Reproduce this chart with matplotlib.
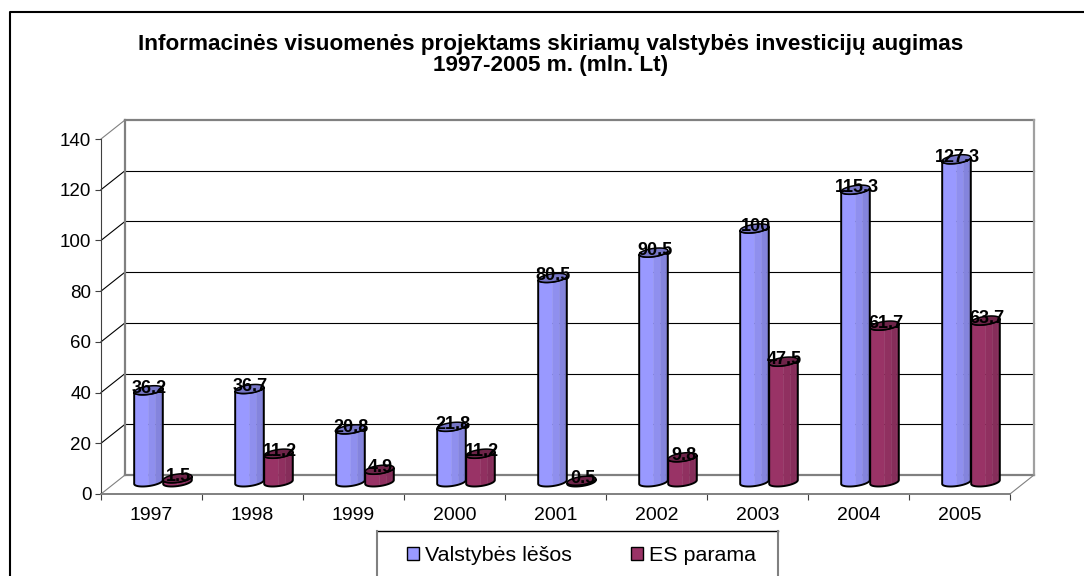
import matplotlib
matplotlib.use('Agg')
import matplotlib.pyplot as plt
import numpy as np
from matplotlib.lines import Line2D
from matplotlib.patches import Patch, Polygon, Rectangle

plt.rcParams['font.family'] = ['Liberation Sans', 'DejaVu Sans']

years = ['1997', '1998', '1999', '2000', '2001', '2002', '2003', '2004', '2005']
valstybes = [36.2, 36.7, 20.8, 21.8, 80.5, 90.5, 100, 115.3, 127.3]
es_parama = [1.5, 11.2, 4.9, 11.2, 0.5, 9.8, 47.5, 61.7, 63.7]
value_labels_v = ['36.2', '36.7', '20.8', '21.8', '80.5', '90.5', '100', '115.3', '127.3']
value_labels_e = ['1.5', '11.2', '4.9', '11.2', '0.5', '9.8', '47.5', '61.7', '63.7']
y_ticks = [0, 20, 40, 60, 80, 100, 120, 140]
title = 'Informacinės visuomenės projektams skiriamų valstybės investicijų augimas\n1997-2005 m. (mln. Lt)'

W, H = 1084, 576
fig = plt.figure(figsize=(W / 100, H / 100), dpi=100)
ax = fig.add_axes([101 / W, (H - 494) / H, 909 / W, 355 / H])
ax.set_xlim(0, len(years))
ax.set_ylim(0, 140)

# size of one pixel in data units, the fake 3D depth is set in pixels
px = len(years) / 909
py = 140 / 355
depth_x, depth_y = 24 * px, 19 * py

GRAY = '#808080'
for v in y_ticks:
    color = GRAY if v in (0, 140) else 'black'
    ax.plot([0, depth_x], [v, v + depth_y], color=color, lw=0.8, clip_on=False, zorder=1)
    ax.plot([depth_x, len(years) + depth_x], [v + depth_y] * 2, color=color,
            lw=1.6 if v in (0, 140) else 0.8, clip_on=False, zorder=1)
ax.plot([depth_x, depth_x], [depth_y, 140 + depth_y], color=GRAY, lw=1.6, clip_on=False, zorder=1)
ax.plot([len(years) + depth_x] * 2, [depth_y, 140 + depth_y], color='#a0a0a0', lw=1.6, clip_on=False, zorder=1)
ax.plot([len(years), len(years) + depth_x], [0, depth_y], color=GRAY, lw=0.8, clip_on=False, zorder=1)


def cylinder(cx, value, light, dark, cap, z):
    a, dx, dy = 13 * px, 6 * px, 4.5 * py
    base = 12 * py
    t0 = np.arctan2(dx, a)
    arc = np.linspace(t0 + np.pi, t0 + 2 * np.pi, 25)
    xs = cx + a * np.cos(arc) + dx * np.sin(arc)
    ys = dy * np.sin(arc)
    light, dark = np.array(matplotlib.colors.to_rgb(light)), np.array(matplotlib.colors.to_rgb(dark))
    # four flat bands, the front is lightest and the right side darkest
    for band, (k0, k1) in enumerate([(0, 12), (12, 16), (16, 20), (20, 24)]):
        c = light + (dark - light) * band / 3
        front = np.c_[xs[k0:k1 + 1], base + ys[k0:k1 + 1]]
        back = np.c_[xs[k0:k1 + 1][::-1], base + value + ys[k0:k1 + 1][::-1]]
        ax.add_patch(Polygon(np.r_[front, back], fc=c, ec=c, lw=0.3, clip_on=False, zorder=z))
    outline = np.r_[np.c_[xs, base + ys], np.c_[xs[::-1], base + value + ys[::-1]]]
    ax.add_patch(Polygon(outline, fc='none', ec='black', lw=1.4, clip_on=False, zorder=z + 0.1))
    t = np.linspace(0, 2 * np.pi, 60)
    top = np.c_[cx + a * np.cos(t) + dx * np.sin(t), base + value + dy * np.sin(t)]
    ax.add_patch(Polygon(top, fc=cap, ec='black', lw=1.1, clip_on=False, zorder=z + 0.2))


for i, year in enumerate(years):
    c_blue = i + 0.5 - 3 * px
    c_red = i + 0.5 + 26 * px
    cylinder(c_blue, valstybes[i], '#9999ff', '#7a7acc', '#7676c6', 3 + i)
    cylinder(c_red, es_parama[i], '#993366', '#7d2a54', '#6e2449', 3 + i + 0.5)
    ax.text(c_blue + px, valstybes[i] + 14 * py, value_labels_v[i], ha='center', va='center',
            fontsize=13, fontweight='bold', color='black', zorder=30, clip_on=False)
    ax.text(c_red + px, es_parama[i] + 14 * py, value_labels_e[i], ha='center', va='center',
            fontsize=13, fontweight='bold', color='black', zorder=30, clip_on=False)

ax.set_facecolor('none')
for side in ('top', 'right'):
    ax.spines[side].set_visible(False)
ax.spines['left'].set_color('#404040')
ax.spines['bottom'].set_color(GRAY)
ax.spines['bottom'].set_linewidth(1.4)
ax.set_yticks(y_ticks)
ax.set_xticks(range(len(years) + 1))
ax.set_xticklabels([])
ax.set_xticks(np.arange(len(years)) + 0.5, labels=years, minor=True)
ax.tick_params(axis='x', which='minor', length=0, pad=9, labelsize=14)
ax.tick_params(axis='x', which='major', length=4, color='#404040')
ax.tick_params(axis='y', length=4, pad=3, labelsize=13.5, color='#404040')

fig.text(551 / W, 1 - 55 / H, title, ha='center', va='center', fontsize=16.2, fontweight='bold', linespacing=0.98)

# chart border, the picture is cut off on the right and at the bottom
fig.add_artist(Line2D([10 / W, 10 / W, 1], [0, 1 - 12 / H, 1 - 12 / H], color='black', lw=1.5))

# legend box also runs past the bottom edge
fig.add_artist(Rectangle((377 / W, -0.05), 401 / W, 0.05 + 1 - 531 / H, fc='white', ec='none', zorder=4,
                         transform=fig.transFigure))
fig.add_artist(Line2D([377 / W, 778 / W], [1 - 531 / H] * 2, color='black', lw=1, zorder=4.5))
for x in (377, 778):
    fig.add_artist(Line2D([x / W, x / W], [0, 1 - 531 / H], color=GRAY, lw=1.5, zorder=4.5))

handles = [Patch(fc='#9999ff', ec='black', lw=1), Patch(fc='#993366', ec='black', lw=1)]
leg = fig.legend(handles, ['Valstybės lėšos', 'ES parama'], ncol=2, loc='upper left',
                 bbox_to_anchor=(407 / W, 1 - 546 / H), fontsize=15.4, frameon=False,
                 borderpad=0, handlelength=0.55, handleheight=0.55, handletextpad=0.3,
                 borderaxespad=0, columnspacing=2.75)
leg.set_zorder(5)

fig.savefig('out.png', dpi=100)
